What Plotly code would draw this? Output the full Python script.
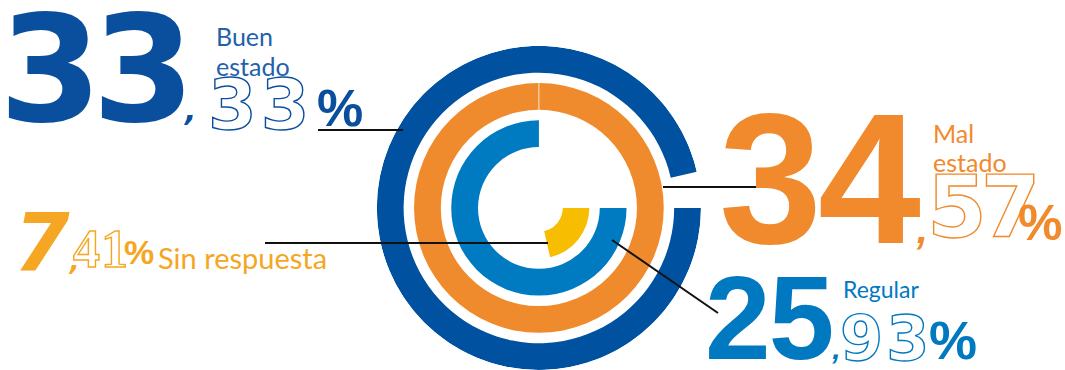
import plotly.graph_objects as go

# ---- data (inner ring to outer ring) ----
categories = ["Sin respuesta", "Regular", "Mal estado", "Buen estado"]
values = [7.41, 25.93, 34.57, 33.33]
ring_colors = ["#F7BD00", "#007AC0", "#EF8B2C", "#0052A0"]
int_parts = ["7", "25", "34", "33"]
dec_parts = ["41", "93", "57", "33"]

W, H = 1065, 370
full_scale = max(values)
RING_W = 0.72

fig = go.Figure()
for i, (cat, v, col) in enumerate(zip(categories, values, ring_colors)):
    span = v / full_scale * 360.0
    fig.add_trace(go.Barpolar(
        r=[RING_W], base=[i], theta=[span / 2], width=[span],
        marker=dict(color=col, line=dict(width=0)),
        name=cat, hoverinfo="skip", showlegend=False,
    ))

# thin seam on the full (100 %) ring at 12 o'clock, as in the original artwork
k_full = values.index(full_scale)
fig.add_trace(go.Scatterpolar(
    r=[k_full, k_full + RING_W], theta=[270, 270], mode="lines",
    line=dict(color="rgba(255,255,255,0.8)", width=1),
    hoverinfo="skip", showlegend=False,
))

def px(x):
    return x / W

def py(y):
    return 1 - y / H

annotations = []

def add_text(text, x, y, size, color, family, weight="normal", outline=None,
             spacing=None, comma=None, style="normal"):
    css = ""
    if spacing is not None:
        css += f"letter-spacing:{spacing}px;"
    if outline:
        css += f"fill:#ffffff;stroke:{outline};stroke-width:1.4px;"
    if css:
        text = f'<span style="{css}">{text}</span>'
    if comma:
        text += f'<span style="font-size:{comma}px;font-style:italic;">,</span>'
    annotations.append(dict(
        text=text, x=px(x), y=py(y), xref="paper", yref="paper",
        xanchor="left", yanchor="middle", showarrow=False,
        font=dict(size=size, color=color, family=family, weight=weight, style=style),
        borderpad=0, borderwidth=0,
    ))

BIG = "DejaVu Sans"
BOLD = "Liberation Sans"
LIGHT = "Lato"

DARK = "#0A4F9E"
DARK_T = "#2361AC"
ORANGE = "#F08A2C"
BLUE = "#0079C1"
YEL = "#F5A623"

# Buen estado
add_text(int_parts[3], -1, 70, 148, DARK, BIG, "bold", spacing=-10, comma=30)
add_text("Buen", 216, 36, 25, DARK_T, LIGHT)
add_text("estado", 216, 66, 25, DARK_T, LIGHT)
add_text(dec_parts[3], 208, 105, 70, DARK, BIG, "bold", outline=DARK, spacing=4)
add_text("%", 317, 108, 52, DARK, BOLD, "bold")

# Mal estado
add_text(int_parts[2], 719, 179, 185, ORANGE, BOLD, "bold", spacing=-4, comma=40)
add_text("Mal", 933, 133, 25, ORANGE, LIGHT)
add_text("estado", 933, 162, 25, ORANGE, LIGHT)
add_text(dec_parts[2], 927, 207, 86, ORANGE, BIG, "bold", outline=ORANGE, spacing=-6)
add_text("%", 1018, 223, 50, ORANGE, BOLD, "bold")

# Sin respuesta
add_text(int_parts[0], 14, 242, 80, YEL, BIG, "bold", comma=26, style="italic")
add_text(dec_parts[0], 73, 249, 54, YEL, "Liberation Sans Narrow", "bold",
         outline=YEL, spacing=1)
add_text("%", 124, 252, 34, YEL, BOLD, "bold")
add_text("Sin respuesta", 158, 257, 29, YEL, LIGHT)

# Regular
add_text(int_parts[1], 705, 318, 118, BLUE, BOLD, "bold", spacing=-2, comma=30)
add_text("Regular", 843, 289, 23, BLUE, LIGHT)
add_text(dec_parts[1], 840, 338, 62, BLUE, BIG, "bold", outline=BLUE, spacing=3)
add_text("%", 929, 340, 54, BLUE, BOLD, "bold")

leaders = [((318, 130), (403, 130)),
           ((663, 187), (760, 187)),
           ((265, 243), (548, 243)),
           ((612, 240), (718, 313))]
shapes = [dict(type="line", xref="paper", yref="paper",
               x0=px(a[0]), y0=py(a[1]), x1=px(b[0]), y1=py(b[1]),
               line=dict(color="#111111", width=2)) for a, b in leaders]

fig.update_layout(
    width=W, height=H,
    margin=dict(l=0, r=0, t=0, b=0),
    paper_bgcolor="white", plot_bgcolor="white",
    polar=dict(
        domain=dict(x=[0.352, 0.660], y=[0.0, 0.876]),
        hole=0.146,
        bgcolor="white",
        barmode="overlay",
        radialaxis=dict(range=[0, 3.72], visible=False, showgrid=False),
        angularaxis=dict(rotation=0, direction="clockwise", visible=False,
                         showgrid=False),
    ),
    annotations=annotations,
    shapes=shapes,
)

fig.write_html("out.html", config={"displayModeBar": False},
               post_script="document.body.style.margin='0';")
